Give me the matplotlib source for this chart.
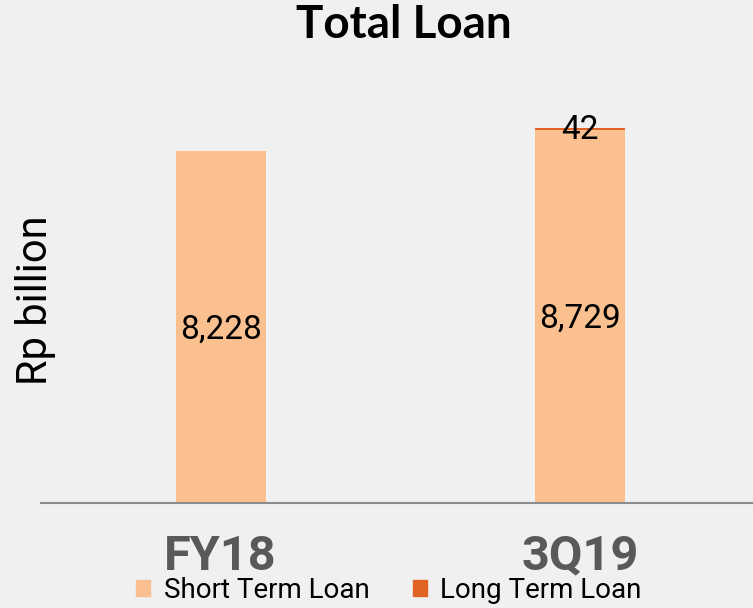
import matplotlib
matplotlib.use("Agg")
import matplotlib.pyplot as plt
from matplotlib.patches import Patch

categories = ["FY18", "3Q19"]
short_term = [8228, 8729]
long_term = [0, 42]
series_names = ["Short Term Loan", "Long Term Loan"]

c_short = "#FAC090"
c_long = "#E06424"
bg = "#F0F0F0"
narrow = ["Roboto", "DejaVu Sans"]

fig = plt.figure(figsize=(7.53, 6.08), dpi=100, facecolor=bg)
ax = fig.add_axes([41/753, 105/608, 1 - 41/753, (503-60)/608])
ax.set_facecolor(bg)

x = list(range(len(categories)))
ax.bar(x, short_term, width=0.25, color=c_short)
ax.bar(x, long_term, width=0.25, bottom=short_term, color=c_long)

for xi, s in zip(x, short_term):
    ax.text(xi, s / 2 - 60, f"{s:,}", ha="center", va="center", fontsize=24, family=narrow)
for xi, s, l in zip(x, short_term, long_term):
    if l > 0:
        ax.text(xi, s + l - 60, f"{l:,}", ha="center", va="center", fontsize=24, family=narrow)

ax.set_xlim(-0.5, 1.482)
ax.set_ylim(0, 10358)
ax.set_xticks(x)
ax.set_xticklabels(categories, fontsize=35, fontweight="bold", color="#595959", family=["Roboto", "DejaVu Sans"])
ax.tick_params(axis="x", length=0, pad=22)
ax.set_yticks([])
for sp in ["top", "right", "left"]:
    ax.spines[sp].set_visible(False)
ax.spines["bottom"].set_color("#8C8C8C")
ax.spines["bottom"].set_linewidth(1.5)

fig.text(404/753, 1 - 25/608, "Total Loan", ha="center", va="center", fontsize=33,
         fontweight="bold", family=["Lato", "DejaVu Sans"])
fig.text(35/753, 1 - 300/608, "Rp billion", ha="center", va="center", rotation=90,
         fontsize=30, family=narrow)

handles = [Patch(color=c_short), Patch(color=c_long)]
fig.legend(handles, series_names, loc="center", bbox_to_anchor=(389/753, 1 - 590/608),
           ncol=2, frameon=False, prop={"family": narrow, "size": 20},
           handlelength=0.5, handleheight=0.5, handletextpad=0.5, columnspacing=1.55)

fig.savefig("out.png", dpi=100, facecolor=bg)
